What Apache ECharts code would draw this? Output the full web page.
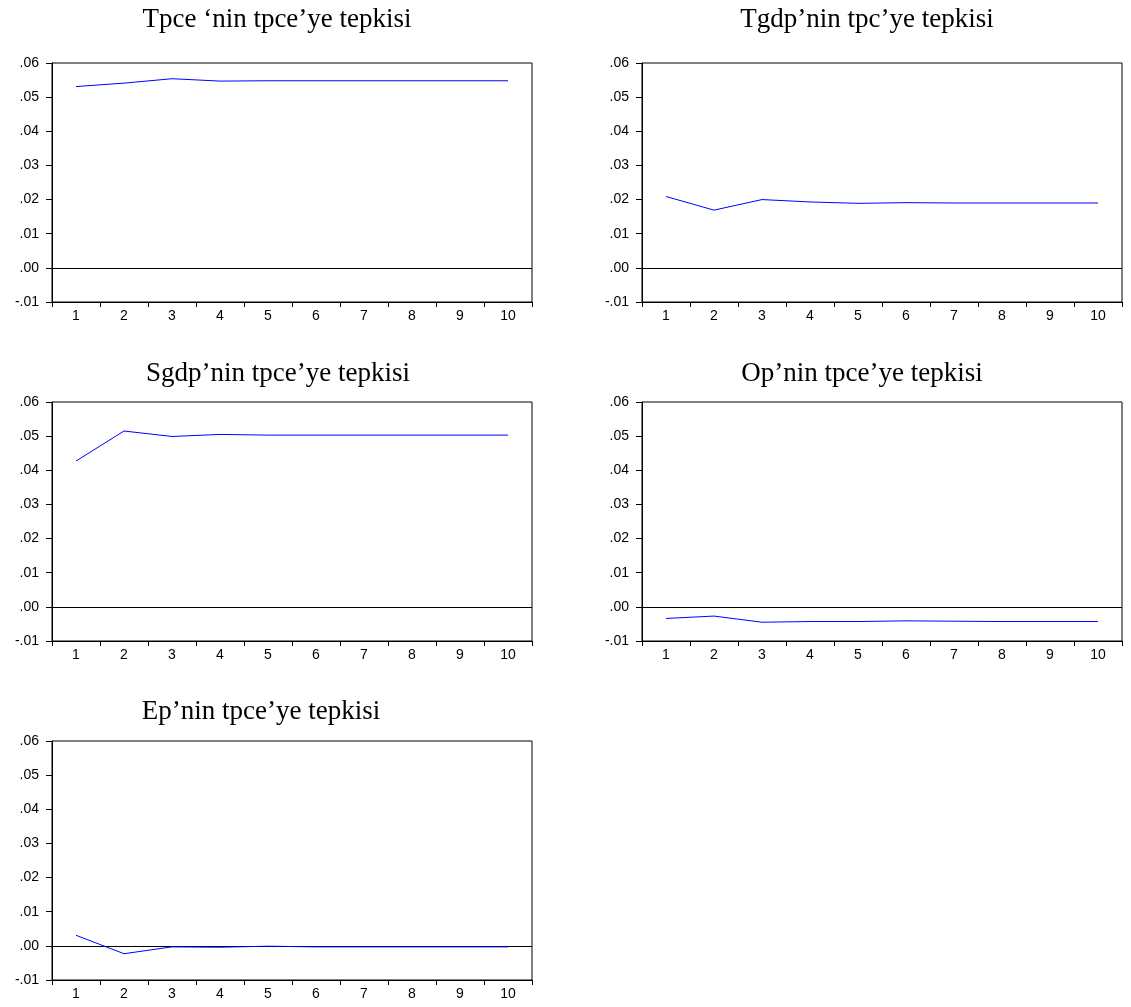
<!DOCTYPE html>
<html>
<head>
<meta charset="utf-8">
<style>
  html, body { margin: 0; padding: 0; background: #fff; }
  #irf { width: 1131px; height: 1007px; }
</style>
<script src="https://cdn.jsdelivr.net/npm/echarts@6/dist/echarts.min.js"></script>
</head>
<body>
<div id="irf"></div>
<script>
/** tepki fonksiyonlari */
var periods = ['1', '2', '3', '4', '5', '6', '7', '8', '9', '10'];
var yTicks = [-0.01, 0.00, 0.01, 0.02, 0.03, 0.04, 0.05, 0.06];

var tpceResp = [0.0531, 0.0541, 0.0554, 0.0547, 0.0548, 0.0548, 0.0548, 0.0548, 0.0548, 0.0548];
var tgdpResp = [0.0209, 0.0169, 0.0200, 0.0193, 0.0189, 0.0191, 0.0190, 0.0190, 0.0190, 0.0190];
var sgdpResp = [0.0427, 0.0515, 0.0499, 0.0505, 0.0503, 0.0503, 0.0503, 0.0503, 0.0503, 0.0503];
var opResp = [-0.0034, -0.0027, -0.0045, -0.0043, -0.0043, -0.0041, -0.0042, -0.0043, -0.0043, -0.0043];
var epResp = [0.0031, -0.0023, -0.0003, -0.0004, -0.0001, -0.0003, -0.0003, -0.0003, -0.0003, -0.0003];

var titles = [
  'Tpce \u2018nin tpce\u2019ye tepkisi',
  'Tgdp\u2019nin tpc\u2019ye tepkisi',
  'Sgdp\u2019nin tpce\u2019ye tepkisi',
  'Op\u2019nin tpce\u2019ye tepkisi',
  'Ep\u2019nin tpce\u2019ye tepkisi'
];
var responses = [tpceResp, tgdpResp, sgdpResp, opResp, epResp];

// panel boxes (left, top) and title anchors
var boxes = [[52, 63], [642, 63], [52, 402], [642, 402], [52, 741]];
var titlePos = [[272, 1], [862, 1], [273, 355], [857, 355], [256, 693]];

var irf = echarts.init(document.getElementById('irf'));

var fmtY = function (v) {
  var s = v.toFixed(2);
  return s.replace('0.', '.');
};

var option = {
  animation: false,
  title: [],
  grid: [],
  xAxis: [],
  yAxis: [],
  series: []
};

for (var i = 0; i < responses.length; i++) {
  option.title.push({
    text: titles[i],
    left: titlePos[i][0],
    top: titlePos[i][1],
    textAlign: 'center',
    textStyle: {
      fontFamily: 'Liberation Serif',
      fontWeight: 'normal',
      fontSize: 27,
      color: '#000'
    }
  });
  option.grid.push({
    left: boxes[i][0],
    top: boxes[i][1],
    width: 480,
    height: 239,
    show: true,
    borderColor: '#000',
    borderWidth: 1,
    backgroundColor: '#fff'
  });
  option.xAxis.push({
    type: 'category',
    gridIndex: i,
    data: periods,
    boundaryGap: true,
    axisLine: { onZero: false, lineStyle: { color: '#000', width: 1 } },
    axisTick: { show: true, length: 5, lineStyle: { color: '#000' } },
    axisLabel: {
      margin: 7,
      fontFamily: 'Liberation Sans',
      fontSize: 14,
      color: '#000'
    },
    splitLine: { show: false }
  });
  option.yAxis.push({
    type: 'value',
    gridIndex: i,
    min: yTicks[0],
    max: yTicks[yTicks.length - 1],
    interval: 0.01,
    axisLine: { show: true, lineStyle: { color: '#000', width: 1 } },
    axisTick: { show: true, length: 6, lineStyle: { color: '#000' } },
    axisLabel: {
      margin: 13,
      fontFamily: 'Liberation Sans',
      fontSize: 14,
      color: '#000',
      formatter: fmtY
    },
    splitLine: { show: false }
  });
  option.series.push({
    type: 'line',
    xAxisIndex: i,
    yAxisIndex: i,
    data: responses[i],
    symbol: 'none',
    lineStyle: { color: '#0000ff', width: 1 },
    z: 3,
    markLine: {
      silent: true,
      symbol: 'none',
      label: { show: false },
      lineStyle: { color: '#000', width: 1, type: 'solid' },
      data: [{ yAxis: 0 }],
      z: 2
    }
  });
}

irf.setOption(option);
</script>
</body>
</html>
